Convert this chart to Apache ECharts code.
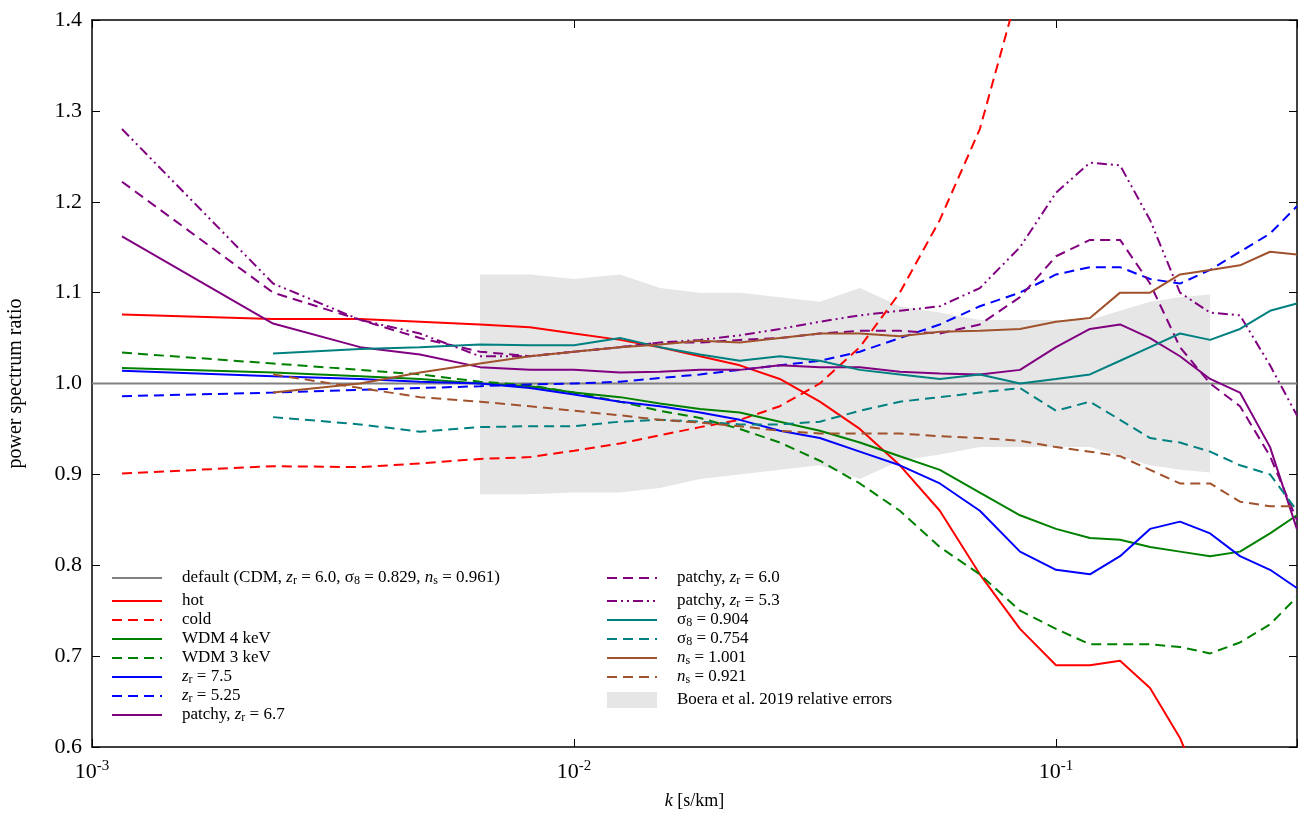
<!DOCTYPE html>
<html>
<head>
<meta charset="utf-8">
<script src="https://cdn.jsdelivr.net/npm/echarts@6/dist/echarts.min.js"></script>
<style>html,body{margin:0;background:#fff}#chart{width:1304px;height:817px}</style>
</head>
<body>
<div id="chart"></div>
<script>
// k grid [s/km]
const kGrid = [0.001154, 0.002375, 0.0036, 0.00479, 0.00638, 0.0081, 0.01, 0.01246, 0.01507, 0.01826, 0.02208, 0.02673, 0.03236, 0.03917, 0.04743, 0.05741, 0.0695, 0.0842, 0.1, 0.1176, 0.1358, 0.1567, 0.1808, 0.2088, 0.2408, 0.278, 0.316]
const kLate = kGrid.slice(1)
const kBand = kGrid.slice(4, 24)

const defaultLine = [1.0, 1.0]
const defaultK = [0.001, 0.3162]
const hot = [1.076, 1.071, 1.071, 1.068, 1.065, 1.062, 1.055, 1.048, 1.04, 1.03, 1.02, 1.005, 0.98, 0.95, 0.91, 0.86, 0.79, 0.73, 0.69, 0.69, 0.695, 0.665, 0.61, 0.53]
const cold = [0.901, 0.909, 0.908, 0.912, 0.917, 0.919, 0.926, 0.934, 0.943, 0.952, 0.96, 0.975, 1.0, 1.04, 1.10, 1.18, 1.28, 1.44, 1.55]
const wdm4 = [1.017, 1.012, 1.008, 1.005, 1.0, 0.997, 0.99, 0.985, 0.978, 0.972, 0.968, 0.958, 0.948, 0.935, 0.92, 0.905, 0.88, 0.855, 0.84, 0.83, 0.828, 0.82, 0.815, 0.81, 0.815, 0.835, 0.855]
const wdm3 = [1.034, 1.022, 1.015, 1.01, 1.002, 0.998, 0.99, 0.98, 0.97, 0.962, 0.95, 0.935, 0.915, 0.89, 0.86, 0.82, 0.79, 0.75, 0.73, 0.713, 0.713, 0.713, 0.71, 0.703, 0.715, 0.735, 0.765]
const zr75 = [1.014, 1.008, 1.005, 1.002, 1.0, 0.995, 0.988, 0.98, 0.975, 0.968, 0.96, 0.948, 0.94, 0.925, 0.91, 0.89, 0.86, 0.815, 0.795, 0.79, 0.81, 0.84, 0.848, 0.835, 0.81, 0.795, 0.775]
const zr525 = [0.986, 0.99, 0.993, 0.995, 0.997, 0.999, 1.0, 1.002, 1.006, 1.01, 1.015, 1.02, 1.025, 1.035, 1.05, 1.065, 1.085, 1.10, 1.12, 1.128, 1.128, 1.115, 1.11, 1.125, 1.145, 1.165, 1.195]
const patchy67 = [1.162, 1.066, 1.04, 1.032, 1.018, 1.015, 1.015, 1.012, 1.013, 1.015, 1.015, 1.02, 1.018, 1.018, 1.013, 1.011, 1.01, 1.015, 1.04, 1.06, 1.065, 1.05, 1.03, 1.005, 0.99, 0.93, 0.84]
const patchy60 = [1.222, 1.10, 1.07, 1.05, 1.035, 1.03, 1.035, 1.04, 1.045, 1.045, 1.048, 1.05, 1.055, 1.058, 1.058, 1.055, 1.065, 1.095, 1.14, 1.158, 1.158, 1.11, 1.04, 1.0, 0.975, 0.92, 0.85]
const patchy53 = [1.28, 1.11, 1.07, 1.055, 1.03, 1.03, 1.035, 1.04, 1.045, 1.048, 1.053, 1.06, 1.068, 1.075, 1.08, 1.085, 1.105, 1.15, 1.21, 1.243, 1.24, 1.18, 1.10, 1.078, 1.075, 1.02, 0.965]
const sig904 = [1.033, 1.038, 1.04, 1.043, 1.042, 1.042, 1.05, 1.04, 1.032, 1.025, 1.03, 1.025, 1.015, 1.01, 1.005, 1.01, 1.0, 1.005, 1.01, 1.025, 1.04, 1.055, 1.048, 1.06, 1.08, 1.088]
const sig754 = [0.963, 0.955, 0.947, 0.952, 0.953, 0.953, 0.958, 0.96, 0.958, 0.955, 0.955, 0.958, 0.97, 0.98, 0.985, 0.99, 0.995, 0.97, 0.98, 0.96, 0.94, 0.935, 0.925, 0.91, 0.9, 0.86]
const ns1001 = [0.99, 1.0, 1.012, 1.022, 1.03, 1.035, 1.04, 1.043, 1.047, 1.045, 1.05, 1.055, 1.055, 1.052, 1.057, 1.058, 1.06, 1.068, 1.072, 1.1, 1.1, 1.12, 1.125, 1.13, 1.145, 1.142]
const ns0921 = [1.01, 0.995, 0.985, 0.98, 0.975, 0.97, 0.965, 0.96, 0.957, 0.953, 0.948, 0.945, 0.945, 0.945, 0.942, 0.94, 0.937, 0.93, 0.925, 0.92, 0.905, 0.89, 0.89, 0.87, 0.865, 0.865]
const bandUpper = [1.12, 1.12, 1.115, 1.12, 1.105, 1.10, 1.10, 1.095, 1.09, 1.105, 1.085, 1.078, 1.07, 1.07, 1.07, 1.07, 1.08, 1.09, 1.095, 1.098]
const bandLower = [0.878, 0.878, 0.88, 0.88, 0.885, 0.895, 0.9, 0.905, 0.91, 0.895, 0.915, 0.922, 0.93, 0.93, 0.93, 0.93, 0.92, 0.91, 0.905, 0.902]
const yTicks = ['0.6', '0.7', '0.8', '0.9', '1.0', '1.1', '1.2', '1.3', '1.4']

const FONT = 'Liberation Serif'
const zip = (ks, vs) => vs.map((v, i) => [ks[i], v])

const lines = [
  { name: 'hot', k: kGrid, v: hot, color: '#ff0000', dash: 'solid' },
  { name: 'cold', k: kGrid, v: cold, color: '#ff0000', dash: [10, 6] },
  { name: 'WDM 4 keV', k: kGrid, v: wdm4, color: '#008000', dash: 'solid' },
  { name: 'WDM 3 keV', k: kGrid, v: wdm3, color: '#008000', dash: [10, 6] },
  { name: 'zr7.5', k: kGrid, v: zr75, color: '#0000ff', dash: 'solid' },
  { name: 'zr5.25', k: kGrid, v: zr525, color: '#0000ff', dash: [10, 6] },
  { name: 'p6.7', k: kGrid, v: patchy67, color: '#800080', dash: 'solid' },
  { name: 'p6.0', k: kGrid, v: patchy60, color: '#800080', dash: [10, 6] },
  { name: 'p5.3', k: kGrid, v: patchy53, color: '#800080', dash: [10, 4, 2, 4, 2, 4] },
  { name: 's904', k: kLate, v: sig904, color: '#008080', dash: 'solid' },
  { name: 's754', k: kLate, v: sig754, color: '#008080', dash: [10, 6] },
  { name: 'n1001', k: kLate, v: ns1001, color: '#a0522d', dash: 'solid' },
  { name: 'n0921', k: kLate, v: ns0921, color: '#a0522d', dash: [10, 6] }
]

const bandData = kBand.map((k, i) => [k, bandLower[i], bandUpper[i]])

const series = [
  {
    type: 'custom', data: bandData, silent: true, z: 1, clip: true,
    renderItem: (params, api) => {
      if (params.dataIndex !== 0) return null
      const up = bandData.map(d => api.coord([d[0], d[2]]))
      const lo = bandData.map(d => api.coord([d[0], d[1]])).reverse()
      return { type: 'polygon', shape: { points: up.concat(lo) }, style: { fill: '#e6e6e6' } }
    },
    encode: { x: 0, y: [1, 2] }
  },
  { type: 'line', data: zip(defaultK, defaultLine), symbol: 'none', lineStyle: { color: '#808080', width: 2 }, z: 2 }
].concat(lines.map(l => ({
  name: l.name, type: 'line', data: zip(l.k, l.v), symbol: 'none', z: 3,
  lineStyle: { color: l.color, width: 2, type: l.dash }
})))

// legend drawn with graphic
const rich = {
  n: { fontFamily: FONT, fontSize: 17, color: '#000' },
  i: { fontFamily: FONT, fontSize: 17, fontStyle: 'italic', color: '#000' },
  s: { fontFamily: FONT, fontSize: 12, color: '#000', padding: [6, 0, 0, 0] }
}
const zr = v => `{i|z}{s|r}{n| = ${v}}`
const legendItems = [
  [112, 578, '#808080', 'solid', `{n|default (CDM, }{i|z}{s|r}{n| = 6.0, σ}{s|8}{n| = 0.829, }{i|n}{s|s}{n| = 0.961)}`],
  [112, 601, '#ff0000', 'solid', '{n|hot}'],
  [112, 620, '#ff0000', [10, 6], '{n|cold}'],
  [112, 639, '#008000', 'solid', '{n|WDM 4 keV}'],
  [112, 658, '#008000', [10, 6], '{n|WDM 3 keV}'],
  [112, 677, '#0000ff', 'solid', zr('7.5')],
  [112, 696, '#0000ff', [10, 6], zr('5.25')],
  [112, 715, '#800080', 'solid', '{n|patchy, }' + zr('6.7')],
  [607, 578, '#800080', [10, 6], '{n|patchy, }' + zr('6.0')],
  [607, 601, '#800080', [10, 4, 2, 4, 2, 4], '{n|patchy, }' + zr('5.3')],
  [607, 620, '#008080', 'solid', '{n|σ}{s|8}{n| = 0.904}'],
  [607, 639, '#008080', [10, 6], '{n|σ}{s|8}{n| = 0.754}'],
  [607, 658, '#a0522d', 'solid', '{i|n}{s|s}{n| = 1.001}'],
  [607, 677, '#a0522d', [10, 6], '{i|n}{s|s}{n| = 0.921}']
]
const graphic = []
legendItems.forEach(([x, y, c, d, t]) => {
  graphic.push({ type: 'line', shape: { x1: x, y1: y, x2: x + 50, y2: y }, style: { stroke: c, lineWidth: 2, lineDash: d === 'solid' ? null : d }, z: 10 })
  graphic.push({ type: 'text', x: x + 70, y: y, style: { text: t, rich, verticalAlign: 'middle' }, z: 10 })
})
graphic.push({ type: 'rect', shape: { x: 607, y: 692, width: 50, height: 16 }, style: { fill: '#e6e6e6' }, z: 10 })
graphic.push({ type: 'text', x: 677, y: 700, style: { text: '{n|Boera et al. 2019 relative errors}', rich, verticalAlign: 'middle' }, z: 10 })

const axisCommon = {
  axisLine: { show: true, onZero: false, lineStyle: { color: '#000', width: 1.5 } },
  axisTick: { inside: true, length: 8, lineStyle: { color: '#000' } },
  splitLine: { show: false }
}

const option = {
  animation: false,
  grid: { left: 92, right: 7, top: 20, bottom: 70, containLabel: false, outerBoundsMode: 'none' },
  xAxis: [{
    type: 'log', min: 0.001, max: 0.3162, logBase: 10, ...axisCommon,
    axisLabel: {
      margin: 12,
      formatter: v => {
        const e = Math.round(Math.log10(v))
        return v <= 0.31 ? `{b|10}{e|${e}}` : ''
      },
      rich: { b: { fontFamily: FONT, fontSize: 22, color: '#000' }, e: { fontFamily: FONT, fontSize: 15, color: '#000', padding: [0, 0, 12, 0] } }
    },
    name: '{i|k}{n| [s/km]}', nameLocation: 'middle', nameGap: 45,
    nameTextStyle: { rich: { i: { fontFamily: FONT, fontSize: 18, fontStyle: 'italic' }, n: { fontFamily: FONT, fontSize: 18 } } }
  }, {
    type: 'log', min: 0.001, max: 0.3162, logBase: 10, position: 'top', ...axisCommon, axisLabel: { show: false }
  }],
  yAxis: [{
    type: 'value', min: 0.6, max: 1.4, interval: 0.1, ...axisCommon,
    axisLabel: { fontFamily: FONT, fontSize: 22, color: '#000', margin: 10, formatter: v => yTicks[Math.round((v - 0.6) * 10)] },
    name: 'power spectrum ratio', nameLocation: 'middle', nameGap: 66,
    nameTextStyle: { fontFamily: FONT, fontSize: 20, color: '#000' }
  }, {
    type: 'value', min: 0.6, max: 1.4, interval: 0.1, position: 'right', ...axisCommon, axisLabel: { show: false }
  }],
  series,
  graphic
}

echarts.init(document.getElementById('chart')).setOption(option)
</script>
</body>
</html>
